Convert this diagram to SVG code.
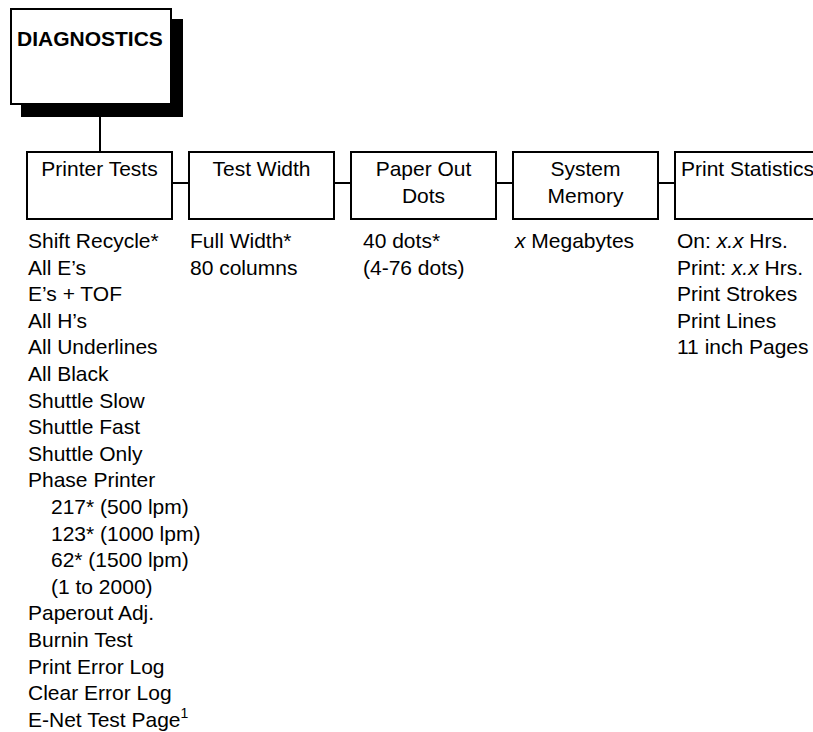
<svg xmlns="http://www.w3.org/2000/svg" width="813" height="732" viewBox="0 0 813 732">
<style>
text{font-family:"Liberation Sans",Arial,sans-serif;font-size:21px;fill:#000}
.box{fill:#fff;stroke:#000;stroke-width:2}
.lbl{text-anchor:middle}
.title{font-weight:bold}
.conn line{stroke:#000;stroke-width:2}
.it{font-style:italic}
.sup{font-size:14px}
</style>
<rect width="813" height="732" fill="#fff"/>
<g id="diagnostics">
<rect x="21" y="19" width="162" height="98" fill="#000"/>
<rect class="box" x="11" y="9" width="160" height="95"/>
<text class="title" x="17" y="46">DIAGNOSTICS</text>
</g>
<g class="conn" id="connectors">
<line x1="100" y1="117" x2="100" y2="152"/>
<line x1="172" y1="183" x2="189" y2="183"/>
<line x1="334" y1="183" x2="351" y2="183"/>
<line x1="496" y1="183" x2="513" y2="183"/>
<line x1="658" y1="183" x2="675" y2="183"/>
</g>
<g id="printer-tests">
<rect class="box" x="27" y="152" width="145" height="67"/>
<text class="lbl" x="99.5" y="176">Printer Tests</text>
<text x="28" y="248">Shift Recycle*</text>
<text x="28" y="274.6">All E’s</text>
<text x="28" y="301.2">E’s + TOF</text>
<text x="28" y="327.8">All H’s</text>
<text x="28" y="354.4">All Underlines</text>
<text x="28" y="381">All Black</text>
<text x="28" y="407.6">Shuttle Slow</text>
<text x="28" y="434.2">Shuttle Fast</text>
<text x="28" y="460.8">Shuttle Only</text>
<text x="28" y="487.4">Phase Printer</text>
<text x="51" y="514">217* (500 lpm)</text>
<text x="51" y="540.6">123* (1000 lpm)</text>
<text x="51" y="567.2">62* (1500 lpm)</text>
<text x="51" y="593.8">(1 to 2000)</text>
<text x="28" y="620.4">Paperout Adj.</text>
<text x="28" y="647">Burnin Test</text>
<text x="28" y="673.6">Print Error Log</text>
<text x="28" y="700.2">Clear Error Log</text>
<text x="28" y="726.8">E-Net Test Page<tspan class="sup" dy="-9">1</tspan></text>
</g>
<g id="test-width">
<rect class="box" x="189" y="152" width="145" height="67"/>
<text class="lbl" x="261.5" y="176">Test Width</text>
<text x="190" y="248">Full Width*</text>
<text x="190" y="274.6">80 columns</text>
</g>
<g id="paper-out-dots">
<rect class="box" x="351" y="152" width="145" height="67"/>
<text class="lbl" x="423.5" y="176">Paper Out</text>
<text class="lbl" x="423.5" y="203">Dots</text>
<text x="363" y="248">40 dots*</text>
<text x="363" y="274.6">(4-76 dots)</text>
</g>
<g id="system-memory">
<rect class="box" x="513" y="152" width="145" height="67"/>
<text class="lbl" x="585.5" y="176">System</text>
<text class="lbl" x="585.5" y="203">Memory</text>
<text x="515" y="248"><tspan class="it">x</tspan> Megabytes</text>
</g>
<g id="print-statistics">
<rect class="box" x="675" y="152" width="145" height="67"/>
<text class="lbl" x="747.5" y="176">Print Statistics</text>
<text x="677" y="248">On: <tspan class="it">x.x</tspan> Hrs.</text>
<text x="677" y="274.6">Print: <tspan class="it">x.x</tspan> Hrs.</text>
<text x="677" y="301.2">Print Strokes</text>
<text x="677" y="327.8">Print Lines</text>
<text x="677" y="354.4">11 inch Pages</text>
</g>
</svg>
